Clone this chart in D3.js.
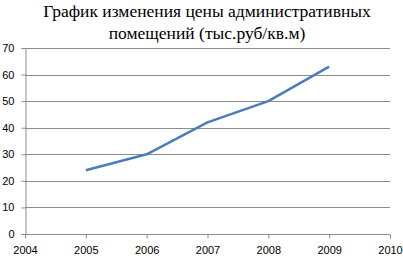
<!DOCTYPE html>
<html><head><meta charset="utf-8">
<script src="https://cdn.jsdelivr.net/npm/d3@7"></script>
<style>body{margin:0;background:#fff}svg{display:block}.ttl{font-family:"Times New Roman","Liberation Serif","DejaVu Serif","Noto Serif",Times,serif}</style>
</head><body>
<script>
const years = [2005, 2006, 2007, 2008, 2009];
const prices = [24, 30, 42, 50, 63];
const xTicks = [2004, 2005, 2006, 2007, 2008, 2009, 2010];
const yTicks = [0, 10, 20, 30, 40, 50, 60, 70];
const titleLines = ["График изменения цены административных", "помещений (тыс.руб/кв.м)"];

const W = 403, H = 257;
const svg = d3.select("body").append("svg").attr("width", W).attr("height", H);
const x = d3.scaleLinear().domain([2004, 2010]).range([25, 390]);
const y = d3.scaleLinear().domain([0, 70]).range([234, 48]);

svg.append("g").selectAll("text").data(titleLines).join("text")
  .attr("class", "ttl")
  .attr("x", 207).attr("y", (d, i) => 17 + i * 22)
  .attr("text-anchor", "middle")
  .attr("font-size", 17.5).attr("fill", "#000").text(d => d);

// gridlines
svg.append("g").selectAll("line").data(yTicks.filter(d => d > 0)).join("line")
  .attr("x1", 25).attr("x2", 390)
  .attr("y1", d => Math.round(y(d)) + 0.5).attr("y2", d => Math.round(y(d)) + 0.5)
  .attr("stroke", "#8c8c8c").attr("stroke-width", 1);

const yAxis = svg.append("g").attr("transform", "translate(25.5,0)")
  .call(d3.axisLeft(y).tickValues(yTicks).tickSize(4).tickPadding(4));
const xAxis = svg.append("g").attr("transform", `translate(0,${Math.round(y(0)) + 0.5})`)
  .call(d3.axisBottom(x).tickValues(xTicks).tickFormat(d3.format("d")).tickSize(4).tickPadding(8));
[yAxis, xAxis].forEach(a => {
  a.select(".domain").attr("stroke", "#8c8c8c");
  a.selectAll(".tick line").attr("stroke", "#8c8c8c");
  a.selectAll("text").attr("font-family", "Liberation Sans, Arial, sans-serif").attr("font-size", 11).attr("fill", "#000");
});
yAxis.selectAll(".tick text").attr("x", -11);
xAxis.select(".domain").attr("d", `M25,0H390`);

svg.append("path").datum(years.map((d, i) => [d, prices[i]]))
  .attr("fill", "none").attr("stroke", "#4a7ebb").attr("stroke-width", 2.5)
  .attr("stroke-linejoin", "round")
  .attr("d", d3.line().x(d => x(d[0])).y(d => y(d[1])));
</script>
</body></html>
